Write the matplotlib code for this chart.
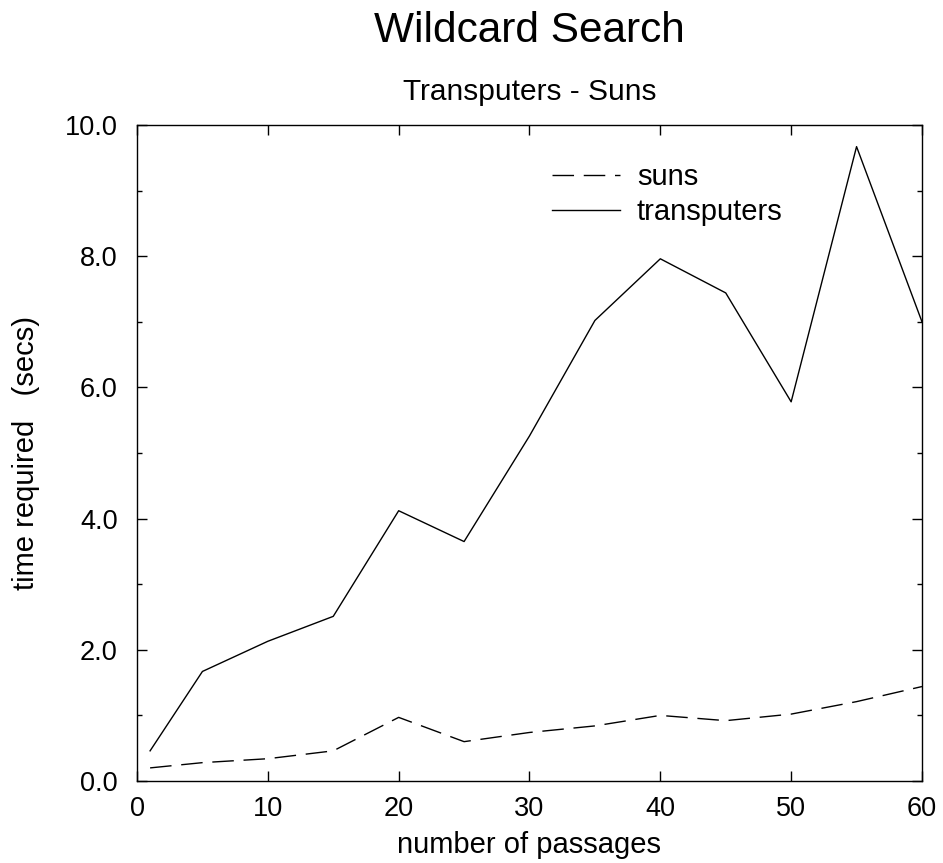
import matplotlib
matplotlib.use("Agg")
import matplotlib.pyplot as plt
from matplotlib.ticker import MultipleLocator

plt.rcParams["font.family"] = ["Liberation Sans", "DejaVu Sans"]

passages = [1, 5, 10, 15, 20, 25, 30, 35, 40, 45, 50, 55, 60]
suns = [0.20, 0.28, 0.34, 0.46, 0.97, 0.60, 0.74, 0.84, 1.00, 0.92, 1.02, 1.21, 1.44]
transputers = [0.46, 1.67, 2.13, 2.51, 4.12, 3.65, 5.26, 7.02, 7.96, 7.44, 5.78, 9.67, 7.00]

fig = plt.figure(figsize=(9.43, 8.63), dpi=100)
ax = fig.add_axes([0.1453, 0.095, 0.8324, 0.7602])

ax.plot(passages, suns, color="black", linewidth=1.0, dashes=(15.5, 7), label="suns")
ax.plot(passages, transputers, color="black", linewidth=1.0, label="transputers")

ax.set_xlim(0, 60)
ax.set_ylim(0, 10)
ax.xaxis.set_major_locator(MultipleLocator(10))
ax.yaxis.set_major_locator(MultipleLocator(2))
ax.yaxis.set_minor_locator(MultipleLocator(1))
ax.yaxis.set_major_formatter(lambda v, pos: f"{v:.1f}")

ax.tick_params(which="both", direction="in", top=True, right=True, width=1.0, labelsize=19.5)
ax.tick_params(which="major", length=7)
ax.tick_params(which="minor", length=3.5)
ax.tick_params(axis="x", pad=11)
ax.tick_params(axis="y", pad=14)
for s in ax.spines.values():
    s.set_linewidth(1.0)

ax.set_xlabel("number of passages", fontsize=21)
ax.xaxis.set_label_coords(0.5, -0.1098)
ax.xaxis.label.set_va("baseline")
ax.set_ylabel("time required   (secs)", fontsize=21)
ax.yaxis.set_label_coords(-0.1414, 0.5)
ax.yaxis.label.set_va("center")

fig.text(0.5615, 1 - 42 / 863, "Wildcard Search", fontsize=30.5, ha="center", va="baseline")
fig.text(0.5615, 1 - 100 / 863, "Transputers - Suns", fontsize=21.5, ha="center", va="baseline")

ax.legend(loc="upper left", bbox_to_anchor=(0.5287, 0.942), frameon=False, fontsize=21,
          handlelength=2.33, handletextpad=0.58, labelspacing=0.25, borderpad=0, borderaxespad=0)

fig.savefig("out.png", dpi=100)
